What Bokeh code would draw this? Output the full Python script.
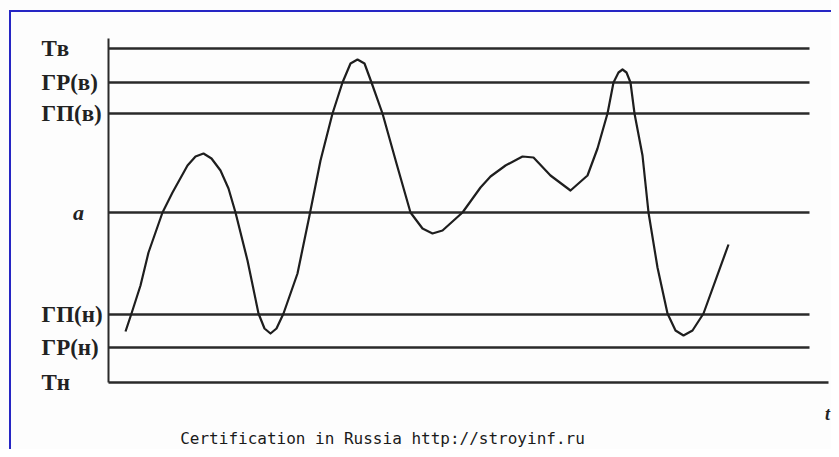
from bokeh.plotting import figure
from bokeh.models import Range1d, ColumnDataSource
from bokeh.core.properties import value
from bokeh.embed import file_html
from bokeh.resources import INLINE

# Levels (y values) and their labels
level_names = ["Tв", "ГР(в)", "ГП(в)", "a", "ГП(н)", "ГР(н)", "Tн"]
level_values = [334, 300, 269, 170, 68, 35, 0]
level_ends = [701, 701, 701, 701, 701, 701, 720]

# Process curve (time t, value y)
curve_t = [17, 23, 32, 40, 47, 54, 64, 79, 87, 95, 103, 112, 120, 127, 139, 150,
           156, 162, 168, 175, 189, 201, 212, 224, 234, 242, 249, 256, 263, 274,
           288, 302, 314, 324, 334, 354, 372, 382, 397, 414, 425, 442, 462, 479,
           489, 499, 505, 510, 514, 518, 522, 526, 534, 540, 549, 559, 567, 575,
           584, 595, 620]
curve_y = [51, 69, 97, 130, 150, 170, 190, 217, 226, 229, 224, 212, 194, 170, 122, 69,
           54, 49, 54, 69, 109, 167, 222, 269, 300, 319, 323, 319, 300, 269,
           219, 170, 154, 149, 152, 170, 195, 206, 217, 226, 225, 207, 192, 207,
           234, 269, 300, 310, 313, 310, 300, 269, 227, 170, 115, 69, 52, 47,
           52, 69, 138]

axis_top = 344
footer = "Certification in Russia http://stroyinf.ru"
t_label = "t"

blue = "#2626c4"
page_bg = "#fdfdfd"
frame_css = (
    f"linear-gradient({blue},{blue}) 9px 10px / 822px 2px no-repeat, "
    f"linear-gradient({blue},{blue}) 9px 10px / 2px 439px no-repeat, "
    f"{page_bg}"
)

p = figure(width=831, height=449, output_backend="svg", toolbar_location=None,
           x_range=Range1d(-99, 723), y_range=Range1d(-67, 372),
           min_border_left=9, min_border_top=10,
           min_border_right=0, min_border_bottom=0,
           styles={"background": frame_css})
p.axis.visible = False
p.grid.visible = False
p.outline_line_color = None
p.background_fill_alpha = 0
p.border_fill_alpha = 0

line_color = "#2a2a2a"

# horizontal level lines
src_lv = ColumnDataSource(dict(y=level_values, x1=level_ends,
                               x0=[0] * len(level_values)))
p.segment(x0="x0", y0="y", x1="x1", y1="y", source=src_lv,
          line_color=line_color, line_width=2.5)

# vertical axis line
p.segment(x0=[0], y0=[0], x1=[0], y1=[axis_top], line_color=line_color, line_width=2)

# curve
p.line(curve_t, curve_y, line_color="#1e1e1e", line_width=2.2, line_join="round")

# level labels (bold serif), 'a' italic
bold_names = [n for n in level_names if n != "a"]
bold_vals = [v for n, v in zip(level_names, level_values) if n != "a"]
p.text(x=[-67] * len(bold_names), y=bold_vals, text=bold_names,
       text_font=value("Liberation Serif"), text_font_style="bold",
       text_font_size="23px", text_align="left", text_baseline="middle",
       text_color="#222222")
a_val = [v for n, v in zip(level_names, level_values) if n == "a"]
p.text(x=[-30], y=a_val, text=["a"],
       text_font=value("Liberation Serif"), text_font_style="bold italic",
       text_font_size="22px", text_align="center", text_baseline="middle",
       text_color="#222222")

# t label
p.text(x=[719], y=[-31], text=[t_label], text_font=value("Liberation Serif"),
       text_font_style="bold italic", text_font_size="18px",
       text_align="center", text_baseline="middle", text_color="#222222")

# footer
p.text(x=[274], y=[-56], text=[footer], text_font=value("DejaVu Sans Mono"),
       text_font_size="16px", text_align="center", text_baseline="middle",
       text_color="#1a1a1a")

open("out.html", "w").write(file_html(p, INLINE))
